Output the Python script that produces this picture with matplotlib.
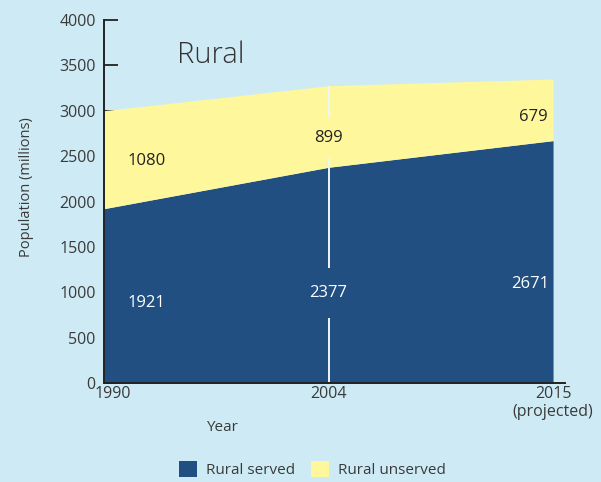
import matplotlib.pyplot as plt
import matplotlib.transforms as mtransforms

years = [1990, 2004, 2015]
served = [1921, 2377, 2671]
unserved = [1080, 899, 679]
year_labels = ["1990", "2004", "2015\n(projected)"]
y_ticks = [0, 500, 1000, 1500, 2000, 2500, 3000, 3500, 4000]

# where the value labels sit (x as category position, y in millions)
served_label_pos = [(0.19, 880), (1.0, 990), (1.90, 1090)]
unserved_label_pos = [(0.19, 2445), (1.0, 2700), (1.91, 2930)]

BG = "#ceebf5"
BLUE = "#214f81"
YELLOW = "#fff79b"
TEXT = "#3a3a3a"

plt.rcParams["font.family"] = ["Open Sans", "DejaVu Sans"]

total = [s + u for s, u in zip(served, unserved)]
xpos = list(range(len(years)))

fig = plt.figure(figsize=(6.01, 4.82), dpi=100, facecolor=BG)
ax = fig.add_axes([0.173, 0.2054, 0.767, 0.7531], facecolor=BG)

ax.fill_between(xpos, 0, served, color=BLUE, lw=0, zorder=3, label="Rural served")
ax.fill_between(xpos, served, total, color=YELLOW, lw=0, zorder=3, label="Rural unserved")

# white marker line at 2004
ax.vlines(xpos[1], 0, total[1], color="#eef6f4", lw=1.4, zorder=4)

# value labels; the one on the marker line gets a box to cut a gap in it
for i, (s, u) in enumerate(zip(served, unserved)):
    on_line = i == 1
    x, y = unserved_label_pos[i]
    ax.text(x, y, str(u), ha="center", va="center", fontsize=12, color="#222222", zorder=5,
            bbox=dict(boxstyle="square,pad=0.72", fc=YELLOW, ec="none") if on_line else None)
    x, y = served_label_pos[i]
    ax.text(x, y, str(s), ha="center", va="center", fontsize=12, color="white", zorder=5,
            bbox=dict(boxstyle="square,pad=1.03", fc=BLUE, ec="none") if on_line else None)

ax.set_xlim(0, 2.053)
ax.set_ylim(0, 4000)

ax.set_yticks(y_ticks)
ax.set_yticklabels([str(v) for v in y_ticks])
ax.set_xticks(xpos)
ax.set_xticklabels(year_labels)
ax.tick_params(axis="y", direction="in", length=10, width=1.3, color="#222222",
               labelsize=11.5, labelcolor=TEXT, pad=6)
ax.tick_params(axis="x", length=0, labelsize=11.5, labelcolor=TEXT, pad=2)
ax.set_axisbelow(True)

offset = mtransforms.ScaledTranslation(9 / 100, 0, fig.dpi_scale_trans)
first = ax.get_xticklabels()[0]
first.set_transform(first.get_transform() + offset)

for side in ["top", "right"]:
    ax.spines[side].set_visible(False)
for side in ["left", "bottom"]:
    ax.spines[side].set_color("#222222")
    ax.spines[side].set_linewidth(1.4)
    ax.spines[side].set_zorder(6)

ax.set_ylabel("Population (millions)", fontsize=10.5, color=TEXT)
ax.yaxis.set_label_coords(-0.151, 0.541)
ax.set_xlabel("Year", fontsize=11, color=TEXT)
ax.xaxis.set_label_coords(0.256, -0.102)

ax.text(0.232, 0.904, "Rural", transform=ax.transAxes, fontsize=21,
        fontweight="light", color="#333333", ha="center", va="center")

leg = fig.legend(loc="center", bbox_to_anchor=(0.52, 0.025), ncol=2, frameon=False,
                 fontsize=11, handlelength=1.2, handleheight=1.2,
                 columnspacing=1.0, handletextpad=0.6)
for t in leg.get_texts():
    t.set_color(TEXT)

fig.savefig("out.png", dpi=100, facecolor=BG)
